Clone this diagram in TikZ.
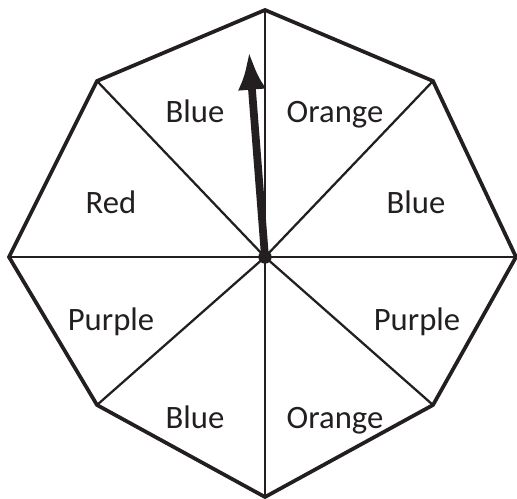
\documentclass[tikz,border=0pt]{standalone}
\usepackage{fontspec}
\setmainfont{Carlito}
\usetikzlibrary{arrows.meta}
\definecolor{ink}{HTML}{231F20}

\begin{document}
\begin{tikzpicture}[x=0.75pt, y=-0.75pt, >=Latex, every node/.style={font=\fontsize{24.5}{28}\selectfont, text=ink, anchor=base, inner sep=0pt}]
\tikzstyle{rim}=[ink, line width=2.8pt, line join=miter]
\tikzstyle{spoke}=[ink, line width=1.7pt]
\useasboundingbox (0,0) rectangle (517,499);
% corners of the spinner
\coordinate (t) at (265,10);
\coordinate (tr) at (433,81);
\coordinate (r) at (516,257);
\coordinate (br) at (433,405);
\coordinate (b) at (265,497);
\coordinate (bl) at (97,405);
\coordinate (l) at (9,257);
\coordinate (tl) at (97,81);
\coordinate (c) at (265,257);
\coordinate (tip) at (249,51);
% spokes
\foreach \v in {t,tr,r,br,b,bl,l,tl} \draw[spoke] (c) -- (\v);
\draw[rim] (t) -- (tr) -- (r) -- (br) -- (b) -- (bl) -- (l) -- (tl) -- cycle;
% labels
\node (s1) at (195,123) {Blue};
\node (s2) at (335,123) {Orange};
\node (s3) at (111,213) {Red};
\node (s4) at (416,213) {Blue};
\node (s5) at (111,330) {Purple};
\node (s6) at (417,330) {Purple};
\node (s7) at (195,428) {Blue};
\node (s8) at (335,428) {Orange};
% pointer
\draw[ink, line width=5.8pt, arrows={-Latex[length=29pt, width=21pt]}] (c) -- (tip);
\fill[ink] (c) circle (5pt);
\end{tikzpicture}
\end{document}
